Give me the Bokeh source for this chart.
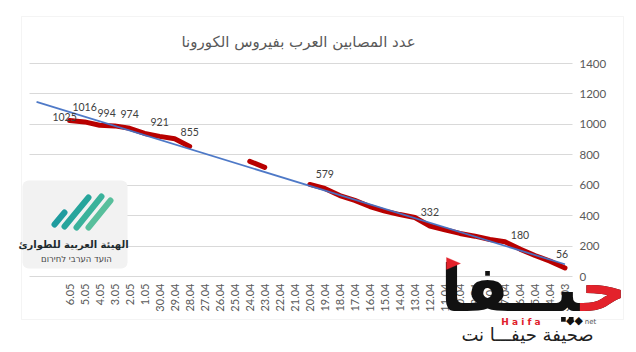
import numpy as np
from bokeh.plotting import figure
from bokeh.models import (Range1d, FixedTicker, ColumnDataSource, LabelSet, Label,
                          BoxAnnotation, PolyAnnotation, Grid)
from bokeh.core.properties import value
from bokeh.embed import file_html
from bokeh.resources import INLINE

# ---------------- data ----------------
dates = ["6.05", "5.05", "4.05", "3.05", "2.05", "1.05", "30.04", "29.04", "28.04",
         "27.04", "26.04", "25.04", "24.04", "23.04", "22.04", "21.04", "20.04",
         "19.04", "18.04", "17.04", "16.04", "15.04", "14.04", "13.04", "12.04",
         "11.04", "10.04", "9.04", "8.04", "7.04", "6.04", "5.04", "4.04", "31.03"]
nan = float("nan")
cases = [1025, 1016, 994, 990, 974, 940, 921, 905, 855,
         nan, nan, nan, 757, 717, nan, nan, 605,
         579, 532, 500, 460, 430, 407, 388, 332,
         307, 283, 265, 243, 228, 180, 138, 101, 56]
labeled_idx = [0, 1, 2, 4, 6, 8, 17, 24, 30, 33]
label_dx = [-5, 0, 7, 0, 0, 0, 0, 0, 0, -3]
label_dy = [4, 15, 12, 14, 14, 14, 14, 14, 14, 14]
y_ticks = [0, 200, 400, 600, 800, 1000, 1200, 1400]

title = "عدد المصابين العرب بفيروس الكورونا"

# ---------------- layout (pixels) ----------------
W, H = 636, 352
PX_L, PX_R, PX_T, PX_B = 29, 572, 63, 276      # chart plot area on the canvas
X0, X1 = -2.67, len(dates) - 0.5               # category extent of plot area
Y0, Y1 = 0, 1400

kx = (PX_R - PX_L) / (X1 - X0)
ky = (PX_B - PX_T) / (Y1 - Y0)
x_start, x_end = X0 - PX_L / kx, X1 + (W - PX_R) / kx
y_start, y_end = Y0 - (H - PX_B) / ky, Y1 + PX_T / ky


def dxp(X):
    return x_start + X / kx


def dyp(Y):
    return y_end - Y / ky


p = figure(width=W, height=H, output_backend="svg", toolbar_location=None,
           x_range=Range1d(x_start, x_end), y_range=Range1d(y_start, y_end),
           y_axis_location="right", x_axis_location="below",
           min_border_left=0, min_border_right=0, min_border_top=0, min_border_bottom=0)
p.outline_line_color = None
p.background_fill_color = "white"
p.border_fill_color = "white"

# grid (horizontal only, inside the plot area)
p.xgrid.grid_line_color = None
p.ygrid.grid_line_color = "#D9D9D9"
p.ygrid.ticker = FixedTicker(ticks=y_ticks)
if "cross_bounds" in Grid.properties():
    p.ygrid.cross_bounds = (X0, X1)
    p.ygrid.bounds = (Y0, Y1)
else:
    p.ygrid.grid_line_color = None
    p.segment(x0=[X0] * len(y_ticks), x1=[X1] * len(y_ticks), y0=y_ticks, y1=y_ticks,
              line_color="#D9D9D9", line_width=1)

# chart border
p.add_layout(BoxAnnotation(left=dxp(21), right=dxp(623), bottom=dyp(319), top=dyp(16),
                           fill_alpha=0, line_color="#D9D9D9", line_width=1,
                           level="underlay"))

# left logo background (drawn under glyphs, over the grid)
p.add_layout(BoxAnnotation(left=dxp(22), right=dxp(127), bottom=dyp(268), top=dyp(180),
                           fill_color="#F2F2F2", fill_alpha=1, line_color=None,
                           border_radius=6, level="underlay"))

# ---------------- chart ----------------
idx = np.arange(len(dates))
vals = np.array(cases, dtype=float)

p.line(idx, vals, line_color="#B80000", line_width=5, line_cap="round", line_join="round")

ok = ~np.isnan(vals)
k, b0 = np.polyfit(idx[ok], vals[ok], 1)
tx = np.array([-2.2, len(dates) - 1])
p.line(tx, k * tx + b0, line_color="#4472C4", line_width=1.8, line_alpha=0.95)

src = ColumnDataSource(dict(x=[idx[i] for i in labeled_idx],
                            y=[vals[i] for i in labeled_idx],
                            t=[str(int(vals[i])) for i in labeled_idx],
                            dx=label_dx, dy=label_dy))
p.add_layout(LabelSet(x="x", y="y", text="t", source=src, x_offset="dx", y_offset="dy",
                      text_align="center", text_baseline="middle",
                      text_font=value("Lato"), text_font_size=value("10.5px"),
                      text_color="#404040"))

# axes at fixed locations (take no panel space)
p.yaxis.fixed_location = X1
p.yaxis.bounds = (Y0, Y1)
p.yaxis.ticker = FixedTicker(ticks=y_ticks)
p.yaxis.axis_line_color = None
p.yaxis.major_tick_line_color = None
p.yaxis.minor_tick_line_color = None
p.yaxis.major_tick_out = 0
p.yaxis.major_tick_in = 0
p.yaxis.major_label_standoff = 7
p.yaxis.major_label_text_font = "Lato"
p.yaxis.major_label_text_font_size = "11.5px"
p.yaxis.major_label_text_color = "#595959"

p.xaxis.fixed_location = Y0
p.xaxis.bounds = (X0, X1)
p.xaxis.ticker = FixedTicker(ticks=list(range(len(dates))))
p.xaxis.major_label_overrides = {i: d for i, d in enumerate(dates)}
p.xaxis.major_label_orientation = np.pi / 2
p.xaxis.axis_line_color = None
p.xaxis.major_tick_line_color = None
p.xaxis.minor_tick_line_color = None
p.xaxis.major_tick_out = 0
p.xaxis.major_tick_in = 0
p.xaxis.major_label_standoff = 7
p.xaxis.major_label_text_font = "Lato"
p.xaxis.major_label_text_font_size = "11px"
p.xaxis.major_label_text_color = "#595959"

# ---------------- title ----------------
p.add_layout(Label(x=dxp(298), y=dyp(41), text=title,
                   text_align="center", text_baseline="middle",
                   text_font="DejaVu Sans", text_font_size="15px", text_color="#595959"))

# ---------------- left logo ----------------
strokes = [((54, 224), (64, 212)), ((64, 226), (88, 197)),
           ((76, 227), (101, 196)), ((88, 227), (110, 200))]
cols = ["#1F9C9F", "#27A59C", "#3AB29B", "#58BF9C"]
p.segment(x0=[dxp(a[0]) for a, _ in strokes], y0=[dyp(a[1]) for a, _ in strokes],
          x1=[dxp(b[0]) for _, b in strokes], y1=[dyp(b[1]) for _, b in strokes],
          line_color=cols, line_width=6, line_cap="round")
p.add_layout(Label(x=dxp(73), y=dyp(244), text="الهيئة العربية للطوارئ",
                   text_align="center", text_baseline="middle",
                   text_font="DejaVu Sans", text_font_style="bold", text_font_size="10px",
                   text_color="#1E2B2E"))
p.add_layout(Label(x=dxp(76), y=dyp(258), text="הועד הערבי לחירום",
                   text_align="center", text_baseline="middle",
                   text_font="DejaVu Sans", text_font_size="8.5px", text_color="#444444"))

# ---------------- Haifa logo ----------------
haifa = "حيــفا"
p.add_layout(Label(x=dxp(626), y=dyp(288), text=haifa,
                   text_align="right", text_baseline="middle",
                   text_font="DejaVu Sans", text_font_style="bold", text_font_size="64px",
                   text_color="#111111"))
p.add_layout(Label(x=dxp(626), y=dyp(288), text="ح\u200d",
                   text_align="right", text_baseline="middle",
                   text_font="DejaVu Sans", text_font_style="bold", text_font_size="64px",
                   text_color="#E3222B"))
p.add_layout(PolyAnnotation(xs=[dxp(446), dxp(446), dxp(460)],
                            ys=[dyp(257), dyp(269), dyp(263)],
                            fill_color="#E3222B", fill_alpha=1, line_color="#E3222B"))
p.add_layout(Label(x=dxp(540), y=dyp(321), text="H a i f a",
                   text_align="right", text_baseline="middle",
                   text_font="DejaVu Sans", text_font_style="bold", text_font_size="9px",
                   text_color="#E0202A"))
p.add_layout(Label(x=dxp(574), y=dyp(320), text="◆◆",
                   text_align="center", text_baseline="middle",
                   text_font="DejaVu Sans", text_font_size="11px", text_color="#111111"))
p.add_layout(Label(x=dxp(590), y=dyp(321), text="net",
                   text_align="center", text_baseline="middle",
                   text_font="DejaVu Sans", text_font_size="7px", text_color="#555555"))
p.add_layout(Label(x=dxp(527), y=dyp(334), text="صحيفة حيفـــا نت",
                   text_align="center", text_baseline="middle",
                   text_font="DejaVu Sans", text_font_size="18px", text_color="#222222"))

open("out.html", "w").write(file_html(p, INLINE))
